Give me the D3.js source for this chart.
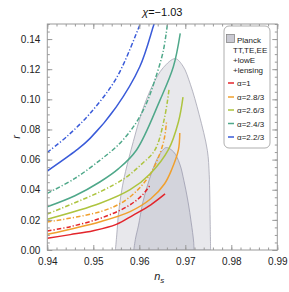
<!DOCTYPE html>
<html><head><meta charset="utf-8">
<script src="https://cdn.jsdelivr.net/npm/d3@7"></script>
<style>body{margin:0;background:#fff}svg{display:block}text{font-family:"Liberation Sans",Arial,sans-serif}</style>
</head><body><svg id="c" width="289" height="292"></svg>
<script>
const xTicks = [0.94,0.95,0.96,0.97,0.98,0.99];
const yTicks = [0.00,0.02,0.04,0.06,0.08,0.10,0.12,0.14];
const titleText = "=\u22121.03";
const legendPlanck = ["Planck","TT,TE,EE","+lowE","+lensing"];
const seriesNames = ["\u03b1=1","\u03b1=2.8/3","\u03b1=2.6/3","\u03b1=2.4/3","\u03b1=2.2/3"];
const seriesColors = ["#e3252b","#f0a02e","#adc43f","#4fa88a","#3a5bd9"];

// Planck contours (ns, r)
const outerNs = [0.9548,0.9551,0.9555,0.9562,0.9570,0.9587,0.9606,0.9630,0.9652,0.9678,0.9695,0.9711,0.9730,0.9748,0.9752,0.9754,0.9755];
const outerR  = [0.000,0.010,0.025,0.040,0.052,0.072,0.092,0.110,0.121,0.127,0.122,0.110,0.090,0.066,0.050,0.020,0.000];
const innerNs = [0.9588,0.9592,0.9598,0.9608,0.9622,0.9638,0.9650,0.9659,0.9675,0.9688,0.9697,0.9706,0.9713,0.9718,0.9719];
const innerR  = [0.000,0.008,0.016,0.032,0.047,0.060,0.066,0.068,0.065,0.057,0.046,0.032,0.018,0.006,0.000];

// curves: solid and dash-dotted per alpha
const redSolidNs = [0.94,0.945,0.95,0.955,0.9587,0.9625,0.9656];
const redSolidR  = [0.0078,0.0102,0.0128,0.0170,0.0232,0.0300,0.0372];
const redDashNs  = [0.94,0.945,0.9515,0.9573,0.9605,0.9625];
const redDashR   = [0.0126,0.0155,0.021,0.0287,0.036,0.0436];
const orangeSolidNs = [0.94,0.9515,0.958,0.9625,0.9655,0.9670,0.9685,0.9688];
const orangeSolidR  = [0.0104,0.0188,0.0255,0.034,0.044,0.0531,0.0664,0.0776];
const orangeDashNs  = [0.94,0.9515,0.9565,0.9600,0.9625,0.9645,0.9655,0.9659];
const orangeDashR   = [0.0186,0.0254,0.032,0.041,0.051,0.0642,0.075,0.0849];
const limeSolidNs = [0.94,0.9515,0.958,0.9625,0.9663,0.9685,0.9695];
const limeSolidR  = [0.0204,0.031,0.040,0.051,0.0664,0.085,0.1015];
const limeDashNs  = [0.94,0.9515,0.957,0.9605,0.9634,0.9655,0.9665];
const limeDashR   = [0.0239,0.0387,0.048,0.057,0.0664,0.088,0.1075];
const tealSolidNs = [0.94,0.946,0.9515,0.9555,0.9594,0.9645,0.9674,0.9689];
const tealSolidR  = [0.0287,0.036,0.0453,0.054,0.0664,0.0995,0.1216,0.1438];
const tealDashNs  = [0.94,0.946,0.9515,0.9555,0.959,0.9615,0.9633,0.9652,0.9662];
const tealDashR   = [0.0376,0.0475,0.0597,0.070,0.083,0.097,0.112,0.132,0.152];
const blueSolidNs = [0.94,0.9464,0.9493,0.9550,0.9601,0.9630,0.9637];
const blueSolidR  = [0.0524,0.0664,0.0741,0.095,0.1216,0.148,0.155];
const blueDashNs  = [0.94,0.9445,0.9493,0.955,0.9602,0.961];
const blueDashR   = [0.0648,0.076,0.0907,0.114,0.15,0.156];

const curves = [
  {ns:redSolidNs,r:redSolidR,c:0,dash:false},{ns:redDashNs,r:redDashR,c:0,dash:true},
  {ns:orangeSolidNs,r:orangeSolidR,c:1,dash:false},{ns:orangeDashNs,r:orangeDashR,c:1,dash:true},
  {ns:limeSolidNs,r:limeSolidR,c:2,dash:false},{ns:limeDashNs,r:limeDashR,c:2,dash:true},
  {ns:tealSolidNs,r:tealSolidR,c:3,dash:false},{ns:tealDashNs,r:tealDashR,c:3,dash:true},
  {ns:blueSolidNs,r:blueSolidR,c:4,dash:false},{ns:blueDashNs,r:blueDashR,c:4,dash:true}
];

const L=47.3,R=277.3,T=24,B=250;
const x=d3.scaleLinear().domain([0.94,0.99]).range([L,R]);
const y=d3.scaleLinear().domain([0,0.15]).range([B,T]);
const svg=d3.select("#c");
svg.append("clipPath").attr("id","clip").append("rect").attr("x",L).attr("y",T).attr("width",R-L).attr("height",B-T);
const g=svg.append("g").attr("clip-path","url(#clip)");

const zip=(a,b)=>a.map((v,i)=>[v,b[i]]);
const cl=d3.line().x(d=>x(d[0])).y(d=>y(d[1])).curve(d3.curveCatmullRom.alpha(0.5));
g.append("path").attr("d",cl(zip(outerNs,outerR))+"Z").attr("fill","#e8e8ec").attr("stroke","#a4a4b2").attr("stroke-width",0.8);
g.append("path").attr("d",cl(zip(innerNs,innerR))+"Z").attr("fill","#d3d4dc").attr("stroke","#9c9cae").attr("stroke-width",0.8);

curves.forEach(cv=>{
  g.append("path").attr("d",cl(zip(cv.ns,cv.r))).attr("fill","none")
   .attr("stroke",seriesColors[cv.c]).attr("stroke-width",1.5)
   .attr("stroke-dasharray",cv.dash?"4.5,2,1.2,2":null);
});

// frame
const fc="#9a9a9a";
svg.append("rect").attr("x",L).attr("y",T).attr("width",R-L).attr("height",B-T).attr("fill","none").attr("stroke",fc).attr("stroke-width",1);
const axB=d3.axisBottom(x).tickValues(xTicks).tickFormat(d3.format(".2f")).tickSizeInner(-5).tickSizeOuter(0).tickPadding(8);
const axL=d3.axisLeft(y).tickValues(yTicks).tickFormat(d3.format(".2f")).tickSizeInner(-5).tickSizeOuter(0).tickPadding(7);
const minorX=d3.range(0.94,0.99001,0.002);
const minorY=d3.range(0,0.15001,0.005);
function styleAx(s){s.select(".domain").remove();s.selectAll("line").attr("stroke",fc);s.selectAll("text").attr("fill","#222").style("font-size","10px");}
svg.append("g").attr("transform",`translate(0,${B})`).call(axB).call(styleAx);
svg.append("g").attr("transform",`translate(${L},0)`).call(axL).call(styleAx);
svg.append("g").attr("transform",`translate(0,${T})`).call(d3.axisTop(x).tickValues(xTicks).tickSizeInner(-5).tickSizeOuter(0).tickFormat("")).call(styleAx);
svg.append("g").attr("transform",`translate(${R},0)`).call(d3.axisRight(y).tickValues(yTicks).tickSizeInner(-5).tickSizeOuter(0).tickFormat("")).call(styleAx);
[[d3.axisBottom(x),`translate(0,${B})`,minorX],[d3.axisTop(x),`translate(0,${T})`,minorX],[d3.axisLeft(y),`translate(${L},0)`,minorY],[d3.axisRight(y),`translate(${R},0)`,minorY]].forEach(([ax,tr,vals])=>{
  svg.append("g").attr("transform",tr).call(ax.tickValues(vals).tickSizeInner(-2.5).tickSizeOuter(0).tickFormat("")).call(styleAx);
});

// title & axis labels
const tt=svg.append("text").attr("x",(L+R)/2).attr("y",16).attr("text-anchor","middle").style("font-size","11px").attr("fill","#111");
tt.append("tspan").style("font-style","italic").text("\u03c7");
tt.append("tspan").text(titleText);
svg.append("text").attr("transform",`translate(20,${(T+B)/2}) rotate(-90)`).attr("text-anchor","middle").style("font-size","11px").style("font-style","italic").attr("fill","#222").text("r");
const xl=svg.append("text").attr("x",(L+R)/2-3).attr("y",280).attr("text-anchor","middle").style("font-size","11px").attr("fill","#222");
xl.append("tspan").style("font-style","italic").text("n");
xl.append("tspan").attr("dy",2.5).style("font-size","8px").style("font-style","italic").text("s");

// legend
const lg=svg.append("g");
lg.append("rect").attr("x",224).attr("y",26).attr("width",46).attr("height",122).attr("rx",5).attr("fill","#fff").attr("stroke","#999").attr("stroke-width",0.8);
lg.append("rect").attr("x",226.5).attr("y",34.5).attr("width",8).attr("height",8).attr("fill","#c9c9d2").attr("stroke","#888").attr("stroke-width",0.8);
const pY=[39.5,49.5,60,70];
legendPlanck.forEach((t,i)=>lg.append("text").attr("x",i==0?237:233).attr("y",pY[i]+3).style("font-size","8px").attr("fill","#222").text(t));
const sY=[83,97,110,123.5,137];
seriesNames.forEach((t,i)=>{
  lg.append("line").attr("x1",228).attr("x2",234).attr("y1",sY[i]).attr("y2",sY[i]).attr("stroke",seriesColors[i]).attr("stroke-width",1.5);
  lg.append("text").attr("x",237).attr("y",sY[i]+3).style("font-size","8px").attr("fill","#222").text(t);
});
</script></body></html>
